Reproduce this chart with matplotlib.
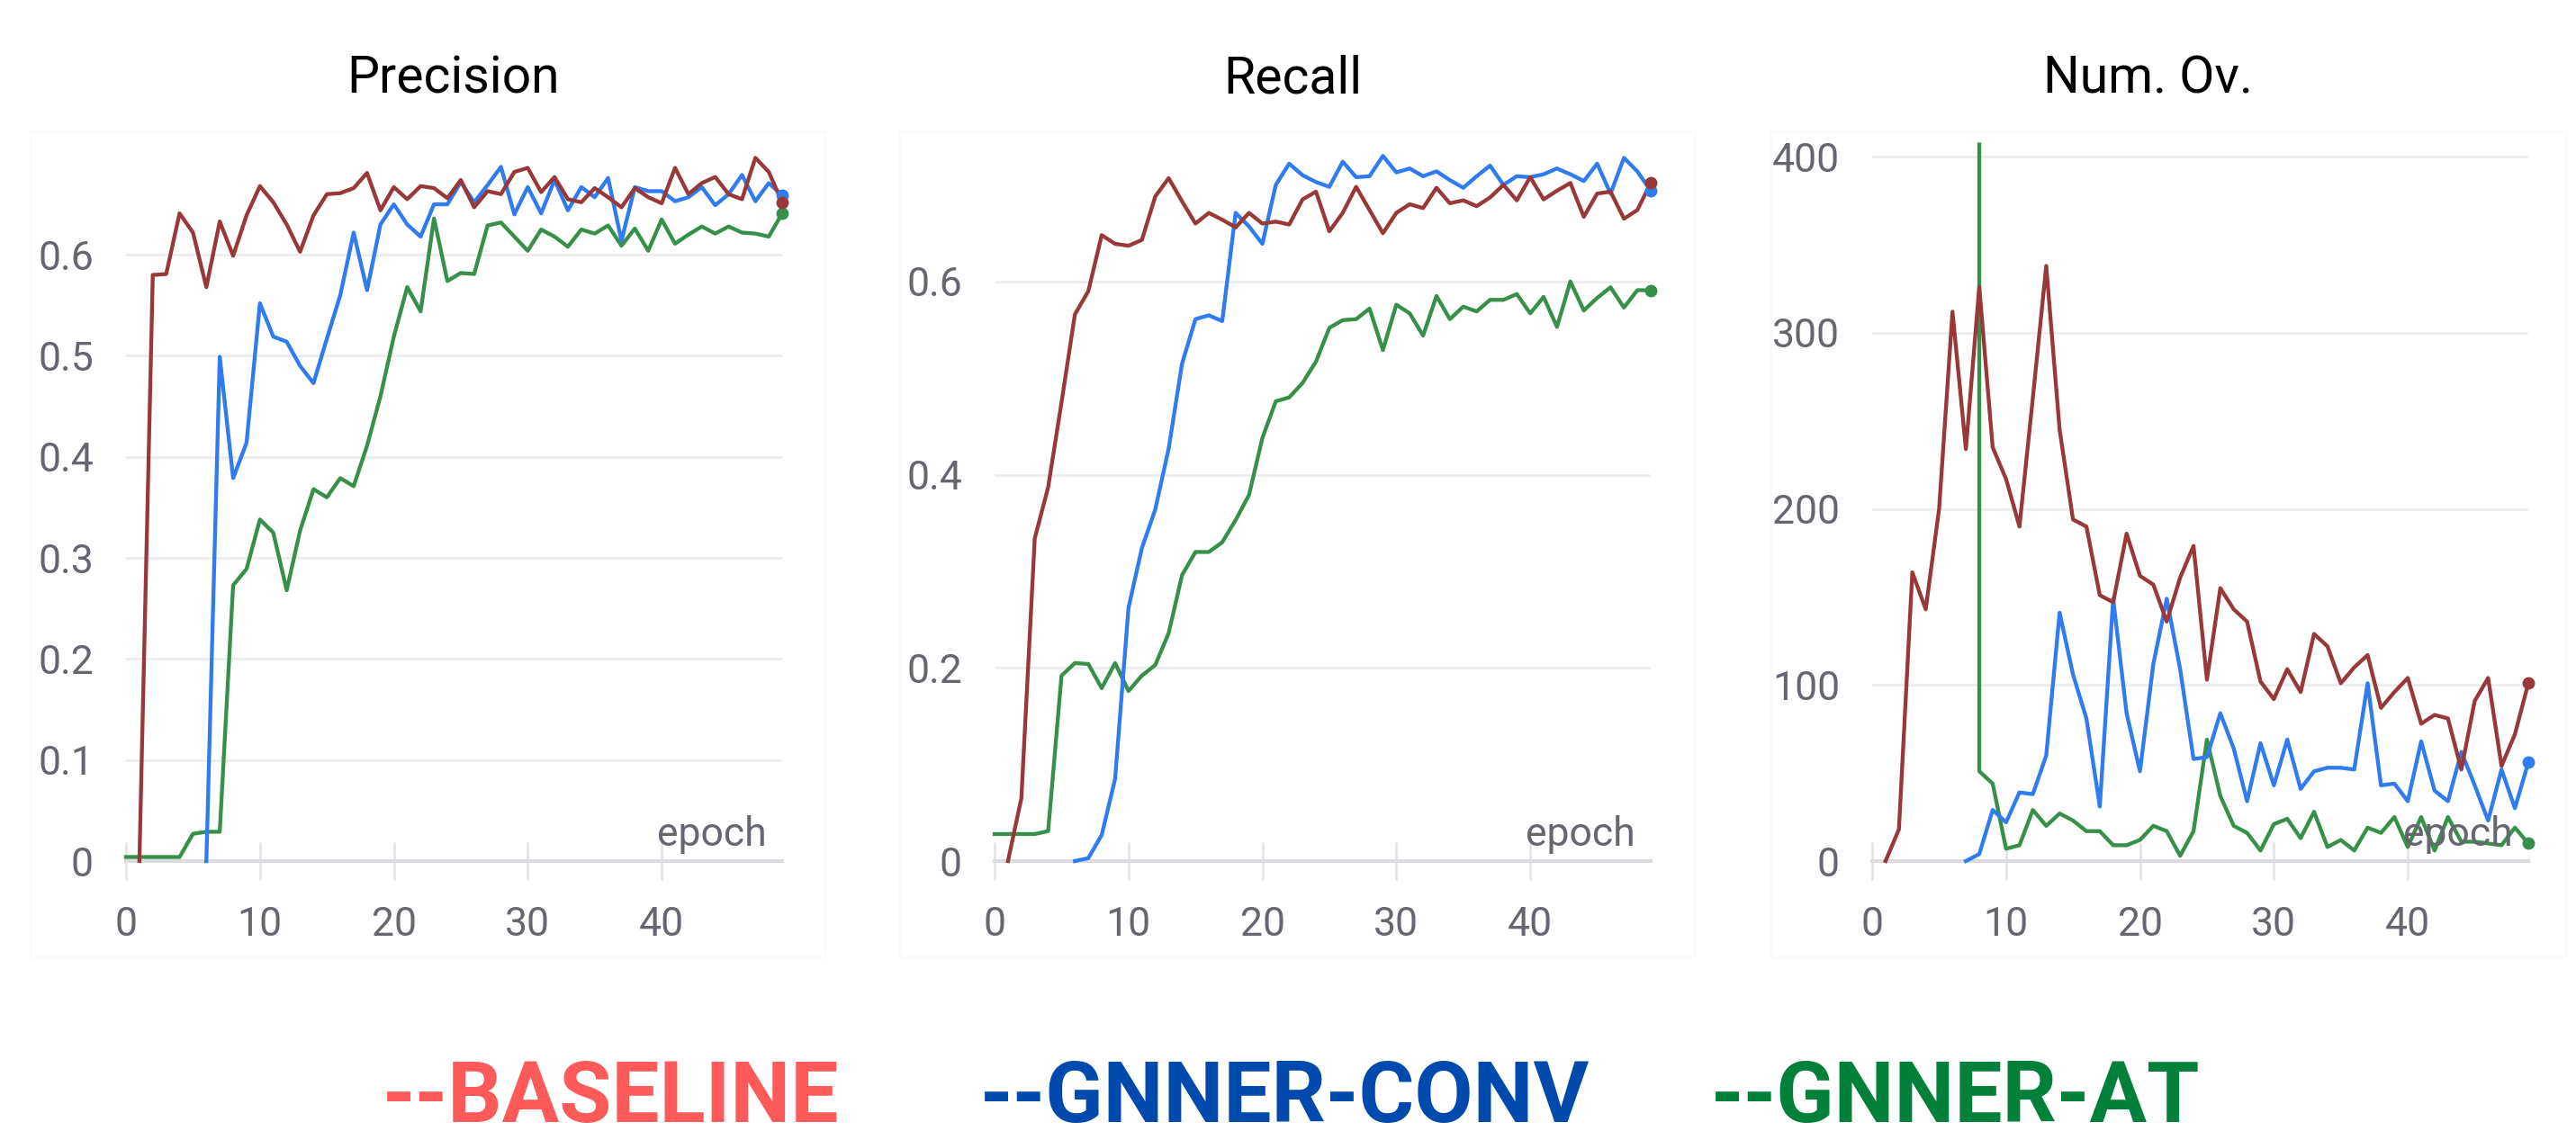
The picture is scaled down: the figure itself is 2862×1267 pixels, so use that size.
import matplotlib
matplotlib.use("Agg")
import matplotlib.pyplot as plt
from matplotlib import font_manager as fm
from matplotlib.patches import Rectangle

# ---------------- data ----------------
titles = ["Precision", "Recall", "Num. Ov."]
legend_labels = ["--BASELINE", "--GNNER-CONV", "--GNNER-AT"]

x_ticks = [0, 10, 20, 30, 40]
x_tick_labels = ["0", "10", "20", "30", "40"]
prec_ticks = [0, 0.1, 0.2, 0.3, 0.4, 0.5, 0.6]
prec_tick_labels = ["0", "0.1", "0.2", "0.3", "0.4", "0.5", "0.6"]
rec_ticks = [0, 0.2, 0.4, 0.6]
rec_tick_labels = ["0", "0.2", "0.4", "0.6"]
ov_ticks = [0, 100, 200, 300, 400]
ov_tick_labels = ["0", "100", "200", "300", "400"]

# Precision
base_prec_epochs = list(range(1, 50))
base_prec = [0.000, 0.580, 0.581, 0.641, 0.622, 0.568, 0.633, 0.599, 0.639, 0.668,
             0.652, 0.630, 0.603, 0.639, 0.660, 0.661, 0.666, 0.681, 0.644, 0.667,
             0.655, 0.668, 0.666, 0.656, 0.674, 0.647, 0.663, 0.660, 0.682, 0.686,
             0.662, 0.677, 0.655, 0.652, 0.666, 0.657, 0.647, 0.666, 0.657, 0.651,
             0.686, 0.660, 0.671, 0.677, 0.660, 0.655, 0.696, 0.682, 0.652]
conv_prec_epochs = list(range(6, 50))
conv_prec = [0.000, 0.499, 0.379, 0.414, 0.552, 0.519, 0.514, 0.490, 0.473, 0.517,
             0.560, 0.622, 0.565, 0.630, 0.650, 0.630, 0.618, 0.650, 0.650, 0.672,
             0.652, 0.669, 0.687, 0.640, 0.667, 0.641, 0.674, 0.644, 0.667, 0.657,
             0.676, 0.614, 0.667, 0.663, 0.663, 0.653, 0.657, 0.667, 0.649, 0.660,
             0.679, 0.653, 0.671, 0.659]
at_prec_epochs = list(range(0, 50))
at_prec = [0.004, 0.004, 0.004, 0.004, 0.004, 0.027, 0.029, 0.029, 0.273, 0.289,
           0.338, 0.325, 0.268, 0.327, 0.368, 0.360, 0.379, 0.371, 0.411, 0.460,
           0.519, 0.568, 0.544, 0.636, 0.574, 0.582, 0.581, 0.629, 0.632, 0.618,
           0.604, 0.625, 0.618, 0.608, 0.625, 0.621, 0.629, 0.609, 0.626, 0.604,
           0.635, 0.611, 0.620, 0.628, 0.621, 0.628, 0.622, 0.621, 0.618, 0.641]

# Recall
base_rec_epochs = list(range(1, 50))
base_rec = [0.000, 0.065, 0.334, 0.387, 0.475, 0.566, 0.590, 0.648, 0.639, 0.637,
            0.643, 0.688, 0.707, 0.683, 0.660, 0.671, 0.664, 0.656, 0.671, 0.660,
            0.662, 0.659, 0.685, 0.693, 0.652, 0.671, 0.698, 0.674, 0.650, 0.671,
            0.680, 0.676, 0.697, 0.681, 0.684, 0.678, 0.687, 0.700, 0.684, 0.708,
            0.685, 0.694, 0.702, 0.667, 0.691, 0.693, 0.665, 0.674, 0.702]
conv_rec_epochs = list(range(6, 50))
conv_rec = [0.000, 0.003, 0.027, 0.085, 0.262, 0.324, 0.364, 0.427, 0.515, 0.561,
            0.565, 0.559, 0.671, 0.657, 0.639, 0.700, 0.722, 0.710, 0.703, 0.698,
            0.724, 0.708, 0.709, 0.730, 0.713, 0.717, 0.709, 0.714, 0.705, 0.697,
            0.709, 0.720, 0.700, 0.709, 0.708, 0.711, 0.717, 0.711, 0.704, 0.722,
            0.691, 0.728, 0.714, 0.694]
at_rec_epochs = list(range(0, 50))
at_rec = [0.028, 0.028, 0.028, 0.028, 0.031, 0.192, 0.205, 0.204, 0.179, 0.205,
          0.176, 0.192, 0.203, 0.236, 0.296, 0.320, 0.320, 0.330, 0.353, 0.379,
          0.438, 0.476, 0.480, 0.495, 0.517, 0.552, 0.560, 0.561, 0.572, 0.529,
          0.576, 0.567, 0.544, 0.585, 0.561, 0.574, 0.569, 0.581, 0.581, 0.587,
          0.567, 0.584, 0.553, 0.600, 0.570, 0.583, 0.594, 0.573, 0.591, 0.591]

# Num. Ov.
base_ov_epochs = list(range(1, 50))
base_ov = [0, 18, 164, 143, 200, 312, 234, 326, 235, 217,
           190, 263, 338, 245, 194, 190, 151, 147, 186, 162,
           157, 136, 161, 179, 103, 155, 143, 136, 102, 92,
           109, 96, 129, 122, 101, 110, 117, 87, 96, 104,
           78, 83, 81, 52, 91, 104, 54, 72, 101]
conv_ov_epochs = list(range(7, 50))
conv_ov = [0, 4, 29, 22, 39, 38, 60, 141, 106, 81,
           31, 149, 84, 51, 112, 149, 109, 58, 59, 84,
           64, 34, 67, 43, 69, 41, 51, 53, 53, 52,
           101, 43, 44, 34, 68, 40, 34, 62, 43, 23,
           52, 30, 56]
at_ov_epochs = [8] + list(range(8, 50))
at_ov = [407, 51, 44, 7, 9, 29, 20, 27, 23, 17, 17, 9, 9, 12, 20, 17, 3, 17,
         69, 37, 20, 16, 6, 21, 24, 13, 28, 8, 12, 6, 19, 16, 25, 8, 25, 6,
         25, 11, 11, 10, 9, 19, 10]

# ---------------- style ----------------
W, H, DPI = 2862, 1267, 100

def available(name):
    try:
        fm.findfont(fm.FontProperties(family=name), fallback_to_default=False)
        return True
    except Exception:
        return False

NARROW = available("Liberation Sans Narrow")
if NARROW:
    body_family = ["Liberation Sans Narrow", "DejaVu Sans"]
    title_size, tick_size, epoch_size = 47, 36, 36
else:
    body_family = ["Roboto", "DejaVu Sans"]
    title_size, tick_size, epoch_size = 41, 32, 32

plt.rcParams["font.family"] = body_family

C_BASE = "#983838"
C_CONV = "#2f7bf0"
C_AT = "#37904a"
LEG_COLORS = ["#ff5a5a", "#004aad", "#00803a"]
TICK_COL = "#666670"
GRID_COL = "#ececec"
BASE_COL = "#dcdce0"
LW = 3.1

fig = plt.figure(figsize=(W / DPI, H / DPI), dpi=DPI, facecolor="white")

def px_axes(left, right, top, bottom):
    return fig.add_axes([left / W, 1 - bottom / H, (right - left) / W, (bottom - top) / H])

panels = [
    dict(left=140, right=869, ymax=0.7186, ticks=prec_ticks, tlabels=prec_tick_labels,
         title_x=503,
         series=[(at_prec_epochs, at_prec, C_AT), (conv_prec_epochs, conv_prec, C_CONV),
                 (base_prec_epochs, base_prec, C_BASE)]),
    dict(left=1105, right=1834, ymax=0.7517, ticks=rec_ticks, tlabels=rec_tick_labels,
         title_x=1436,
         series=[(at_rec_epochs, at_rec, C_AT), (conv_rec_epochs, conv_rec, C_CONV),
                 (base_rec_epochs, base_rec, C_BASE)]),
    dict(left=2080, right=2809, ymax=412.4, ticks=ov_ticks, tlabels=ov_tick_labels,
         title_x=2386,
         series=[(at_ov_epochs, at_ov, C_AT), (conv_ov_epochs, conv_ov, C_CONV),
                 (base_ov_epochs, base_ov, C_BASE)]),
]

TOP, BOTTOM = 150, 957

# very faint cards
for (x0, y0, x1, y1) in [(34, 147, 917, 1064), (1000, 147, 1883, 1064), (1968, 147, 2851, 1064)]:
    fig.patches.append(Rectangle((x0 / W, 1 - y1 / H), (x1 - x0) / W, (y1 - y0) / H,
                                 transform=fig.transFigure, fill=False,
                                 ec="#f9f9f9", lw=1.2, zorder=0))

for p, title in zip(panels, titles):
    ax = px_axes(p["left"], p["right"], TOP, BOTTOM)
    ax.set_xlim(0, 49)
    ax.set_ylim(0, p["ymax"])
    for s in ax.spines.values():
        s.set_visible(False)
    ax.set_facecolor("none")

    ax.set_yticks(p["ticks"])
    ax.set_yticklabels(p["tlabels"])
    ax.set_xticks(x_ticks)
    ax.set_xticklabels(x_tick_labels)
    ax.yaxis.grid(True, color=GRID_COL, lw=1.8)
    ax.set_axisbelow(True)
    ax.tick_params(axis="y", length=0, pad=26, labelsize=tick_size, labelcolor=TICK_COL)
    ax.tick_params(axis="x", direction="inout", length=30, width=1.8, color="#e2e2e5",
                   pad=21, labelsize=tick_size, labelcolor=TICK_COL)
    ax.axhline(0, color=BASE_COL, lw=2.9, zorder=1.5, clip_on=False)

    for z, (xs, ys, col) in enumerate(p["series"]):
        ax.plot(xs, ys, color=col, lw=LW, solid_joinstyle="round",
                clip_on=False, zorder=3 + z * 0.1)
    for z, (xs, ys, col) in enumerate(p["series"]):
        ax.plot([xs[-1]], [ys[-1]], "o", color=col, ms=10, mew=0,
                clip_on=False, zorder=4 + z * 0.1)

    ax.annotate("epoch", xy=(1, 0), xycoords="axes fraction", xytext=(-17, 17),
                textcoords="offset pixels", ha="right", va="baseline",
                color=TICK_COL, fontsize=epoch_size, zorder=6)

    fig.text(p["title_x"] / W, 1 - 103 / H, title, ha="center", va="baseline",
             fontsize=title_size, color="black")

# legend line
for lab, col, cx in zip(legend_labels, LEG_COLORS, [679, 1428, 2173]):
    fig.text(cx / W, 1 - 1247 / H, lab, ha="center", va="baseline",
             fontsize=68, fontweight="bold", color=col,
             family=["Roboto", "DejaVu Sans"])

fig.savefig("out.png", dpi=DPI, facecolor="white")
